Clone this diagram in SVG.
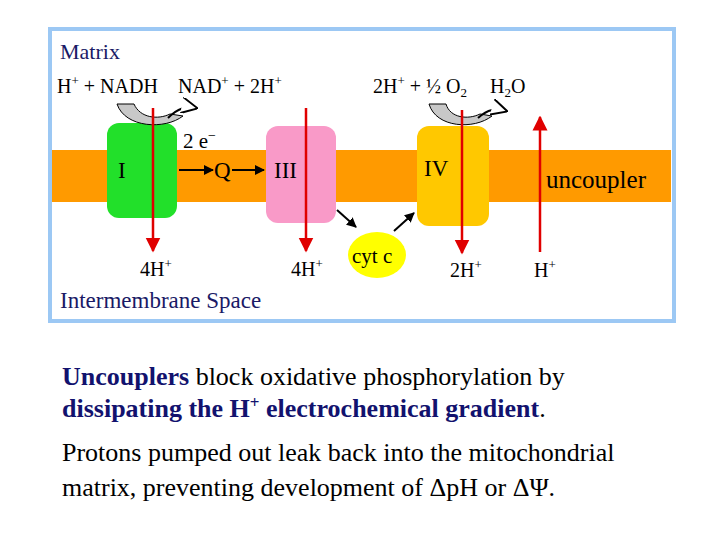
<svg xmlns="http://www.w3.org/2000/svg" width="720" height="540" viewBox="0 0 720 540">
<style>
text{font-family:"Liberation Serif","Times New Roman",serif;fill:#000}
.navy{fill:#1a1a66}
.eq{font-size:20px}
.rn{font-size:23px}
.red{stroke:#e00000;stroke-width:2.5;fill:none}
.blk{stroke:#000;stroke-width:2;fill:none}
.big{font-size:26px}
.b{font-weight:bold;fill:#12126e}
</style>
<defs>
<marker id="rh" viewBox="0 0 10 10" refX="9" refY="5" markerWidth="6" markerHeight="7" markerUnits="strokeWidth" orient="auto"><path d="M0,0L10,5L0,10z" fill="#e00000"/></marker>
<marker id="bh" viewBox="0 0 10 10" refX="9" refY="5" markerWidth="5" markerHeight="5" markerUnits="strokeWidth" orient="auto"><path d="M0,0L10,5L0,10z" fill="#000"/></marker>
<marker id="oh" viewBox="0 0 10 10" refX="9" refY="5" markerWidth="8" markerHeight="8" markerUnits="strokeWidth" orient="auto"><path d="M0,0L10,5L0,10" fill="#fff" stroke="#000" stroke-width="1.2"/></marker>
</defs>
<rect width="720" height="540" fill="#fff"/>
<rect x="50" y="29" width="624" height="292" fill="#fff" stroke="#9cc8f4" stroke-width="4"/>
<rect x="52" y="150" width="619" height="52" fill="#ff9a00"/>
<text x="60" y="59" class="navy" style="font-size:22px">Matrix</text>
<text x="60" y="308" class="navy" style="font-size:23px">Intermembrane Space</text>
<g id="complexI"><rect x="107" y="123" width="70" height="95" rx="12" fill="#22e02a"/><text x="118" y="178" class="rn">I</text></g>
<g id="complexIII"><rect x="266" y="126" width="70" height="97" rx="12" fill="#f99ac8"/><text x="274" y="178" class="rn">III</text></g>
<g id="complexIV"><rect x="417" y="126" width="72" height="100" rx="12" fill="#ffc800"/><text x="424" y="176" class="rn">IV</text></g>
<g id="cytc"><ellipse cx="377" cy="255" rx="29" ry="23" fill="#ffff00"/><text x="352" y="263" style="font-size:21px">cyt c</text></g>
<g id="Q"><text x="214" y="178" class="rn">Q</text></g>
<text x="183" y="148" style="font-size:21px">2 e<tspan dy="-8" font-size="14">−</tspan></text>
<text x="546" y="188" style="font-size:25px">uncoupler</text>
<text x="57" y="93" class="eq">H<tspan dy="-8" font-size="13">+</tspan><tspan dy="8"> + NADH</tspan></text>
<text x="178" y="93" class="eq">NAD<tspan dy="-8" font-size="13">+</tspan><tspan dy="8"> + 2H</tspan><tspan dy="-8" font-size="13">+</tspan></text>
<text x="373" y="93" class="eq">2H<tspan dy="-8" font-size="13">+</tspan><tspan dy="8"> + ½ O</tspan><tspan dy="4" font-size="13">2</tspan></text>
<text x="490" y="93" class="eq">H<tspan dy="4" font-size="13">2</tspan><tspan dy="-4">O</tspan></text>
<text x="140" y="276" class="eq">4H<tspan dy="-8" font-size="13">+</tspan></text>
<text x="291" y="276" class="eq">4H<tspan dy="-8" font-size="13">+</tspan></text>
<text x="450" y="277" class="eq">2H<tspan dy="-8" font-size="13">+</tspan></text>
<text x="534" y="277" class="eq">H<tspan dy="-8" font-size="13">+</tspan></text>
<g id="connectors">
<path d="M117,104 C125,128 165,130 183,116 L170,114 C158,120 140,118 134,104 Z" fill="#c8c8c8" stroke="#000" stroke-width="1"/>
<path d="M168,118 C178,108 186,106 196,108" class="blk" stroke-width="1.2" marker-end="url(#oh)"/>
<path d="M429,104 C436,128 474,130 492,116 L480,114 C468,120 450,118 446,104 Z" fill="#c8c8c8" stroke="#000" stroke-width="1"/>
<path d="M478,118 C488,109 496,108 506,111" class="blk" stroke-width="1.2" marker-end="url(#oh)"/>
<line x1="153" y1="108" x2="153" y2="251" class="red" marker-end="url(#rh)"/>
<line x1="306" y1="108" x2="306" y2="251" class="red" marker-end="url(#rh)"/>
<line x1="462" y1="110" x2="462" y2="253" class="red" marker-end="url(#rh)"/>
<line x1="540" y1="252" x2="540" y2="117" class="red" marker-end="url(#rh)"/>
<line x1="179" y1="170" x2="213" y2="170" class="blk" marker-end="url(#bh)"/>
<line x1="232" y1="170" x2="264" y2="170" class="blk" marker-end="url(#bh)"/>
<line x1="337" y1="210" x2="356" y2="227" class="blk" marker-end="url(#bh)"/>
<line x1="394" y1="231" x2="414" y2="213" class="blk" marker-end="url(#bh)"/>
</g>
<text x="62" y="385" class="big"><tspan class="b">Uncouplers</tspan> block oxidative phosphorylation by</text>
<text x="62" y="417" class="big"><tspan class="b">dissipating the H<tspan dy="-9" font-size="17">+</tspan><tspan dy="9"> electrochemical gradient</tspan></tspan>.</text>
<text x="62" y="461" class="big">Protons pumped out leak back into the mitochondrial</text>
<text x="62" y="496" class="big">matrix, preventing development of ΔpH or ΔΨ.</text>
</svg>
